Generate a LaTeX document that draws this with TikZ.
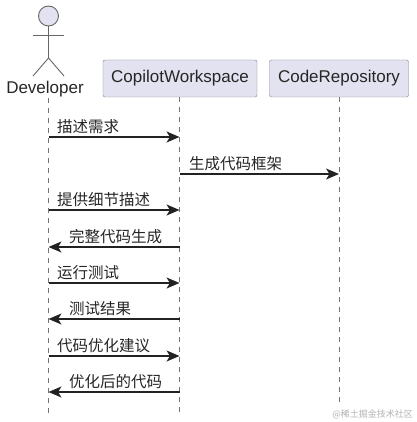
\documentclass[tikz,border=0pt]{standalone}
\usepackage{xcolor}
\usepackage{fontspec}
\setmainfont{Liberation Sans}
\newfontfamily\cjk{Noto Sans CJK SC}
\usetikzlibrary{arrows.meta,positioning}
\definecolor{partfill}{HTML}{E2E2F0}
\definecolor{partline}{HTML}{7F7F8A}
\definecolor{msgline}{HTML}{222222}

\begin{document}
\begin{tikzpicture}[
  x=1pt, y=-1pt,
  box/.style={draw=partline, fill=partfill, rounded corners=2pt, align=center,
              font=\fontsize{17}{19}\selectfont, text=black!85,
              minimum height=37pt, inner sep=0pt},
  lifeline/.style={draw=black!55, dash pattern=on 5pt off 5pt, line width=0.9pt},
  stick/.style={draw=black!60, line width=0.9pt},
  lbl/.style={font=\fontsize{15.5}{18}\selectfont\cjk, text=black!85, anchor=west, inner sep=0pt},
  arr/.style={-{Stealth[length=13pt, width=11pt, inset=3.5pt]}, draw=msgline, line width=1.2pt}]
  \useasboundingbox (0,0) rectangle (416,422);

  % participants
  \node[box, minimum width=154pt] (copilot) at (180,78.5) {CopilotWorkspace};
  \node[box, minimum width=139pt] (repo) at (339,78.5) {CodeRepository};

  % actor
  \node[circle, stick, fill=partfill, minimum size=20pt, inner sep=0pt] (head) at (48.5,16) {};
  \coordinate (hip) at (48.5,58);
  \coordinate (handl) at (33,35);
  \coordinate (handr) at (64,35);
  \coordinate (footl) at (33,76);
  \coordinate (footr) at (64,76);
  \draw[stick] (head.south) -- (hip);
  \draw[stick] (handl) -- (handr);
  \draw[stick] (footl) -- (hip) -- (footr);
  \node[font=\fontsize{17}{19}\selectfont, text=black!85, inner sep=0pt] (dev) at (45,89) {Developer};

  % lifelines
  \coordinate (devtop) at (48,98);
  \coordinate (devend) at (48,415);
  \coordinate (copend) at (179.5,415);
  \coordinate (repoend) at (339.5,405);
  \draw[lifeline] (devtop) -- (devend);
  \draw[lifeline] (copilot.south -| copend) -- (copend);
  \draw[lifeline] (repo.south -| repoend) -- (repoend);

  % message ends
  \foreach \i/\y in {1/137,2/174,3/210,4/247,5/283,6/319,7/356,8/392}{
    \coordinate (d\i) at (48.5,\y);
    \coordinate (c\i) at (179.5,\y);
    \coordinate (r\i) at (339,\y);
  }

  \node[lbl] (msga) at (57,127) {描述需求};
  \node[lbl] (msgb) at (189,163.5) {生成代码框架};
  \node[lbl] (msgc) at (57,200) {提供细节描述};
  \node[lbl] (msgd) at (69,236.5) {完整代码生成};
  \node[lbl] (msge) at (57,273) {运行测试};
  \node[lbl] (msgf) at (69,309) {测试结果};
  \node[lbl] (msgg) at (57,345.5) {代码优化建议};
  \node[lbl] (msgh) at (69,382) {优化后的代码};

  \draw[arr] (d1) -- (c1);
  \draw[arr] (c2) -- (r2);
  \draw[arr] (d3) -- (c3);
  \draw[arr] (c4) -- (d4);
  \draw[arr] (d5) -- (c5);
  \draw[arr] (c6) -- (d6);
  \draw[arr] (d7) -- (c7);
  \draw[arr] (c8) -- (d8);

  \node[font=\fontsize{9}{10}\selectfont\cjk, text=black!30, anchor=east, inner sep=0pt] (mark) at (413,414) {@稀土掘金技术社区};
\end{tikzpicture}
\end{document}
